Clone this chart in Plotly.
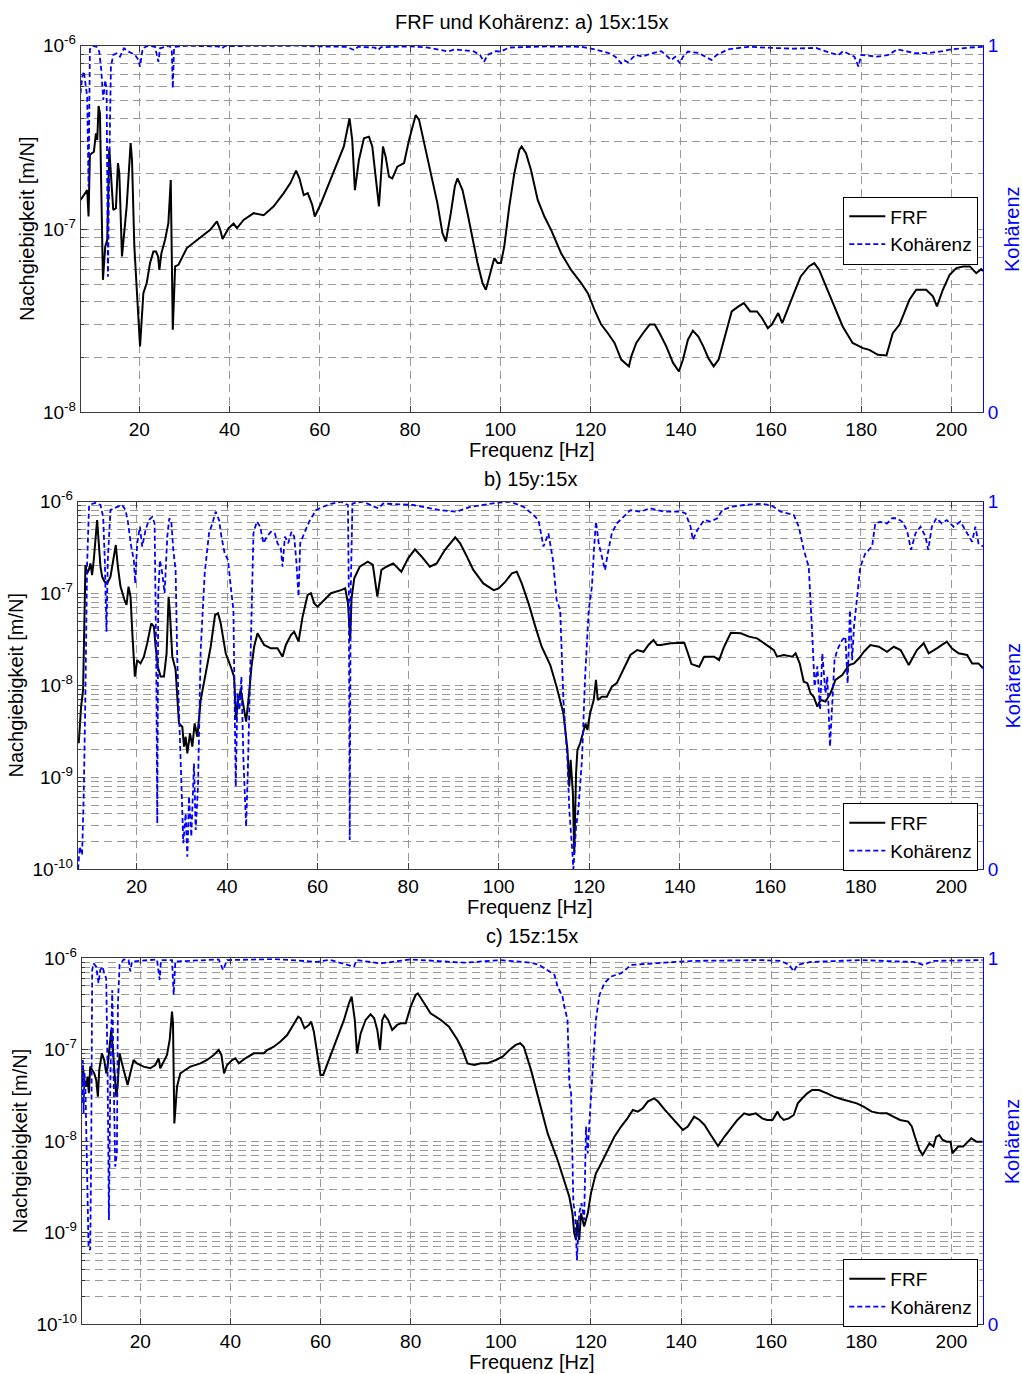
import plotly.graph_objects as go

# ---------------- data ----------------
# Panel a) 15x:15x
f1_hz = [6.96, 8.44, 8.74, 9.04, 9.93, 10.37, 10.67, 10.96, 11.26, 11.93, 12.44, 12.89, 13.33, 13.78, 14.22,
         14.81, 15.26, 15.56, 16.15, 17.19, 18.07, 18.37, 18.89, 19.56, 20.15, 20.89, 21.63, 22.37, 23.11,
         23.70, 24.15, 24.44, 24.89, 25.70, 26.44, 26.96, 27.41, 27.93, 28.67, 30.52, 33.48, 35.70, 37.19,
         37.93, 38.44, 39.78, 40.89, 41.63, 43.11, 45.33, 47.56, 49.78, 52.0, 53.48, 54.74, 55.48, 56.44,
         57.33, 58.30, 58.89, 60.15, 62.37, 63.85, 65.33, 66.59, 67.19, 67.78, 68.67, 69.78, 70.89, 71.63,
         72.37, 73.11, 74.0, 74.59, 75.33, 76.07, 77.19, 78.67, 79.78, 81.26, 82.0, 83.11, 84.59, 86.07,
         87.19, 87.93, 89.04, 89.93, 90.52, 91.63, 92.74, 93.85, 94.96, 96.07, 96.81, 97.78, 98.67, 99.41,
         100.15, 100.89, 102.0, 103.11, 104.22, 104.74, 105.70, 106.81, 108.30, 109.78, 111.26, 113.48,
         115.70, 117.93, 119.41, 120.89, 122.37, 123.85, 125.33, 126.81, 127.56, 128.52, 129.04, 130.15,
         131.63, 133.11, 134.22, 135.33, 136.8, 138.3, 139.6, 140.5, 141.6, 142.7, 143.9, 145.0, 146.1,
         147.3, 148.4, 149.9, 151.3, 152.8, 154.0, 155.4, 156.9, 158.0, 159.3, 160.2, 161.6, 162.5, 163.6,
         165.1, 166.6, 168.4, 169.6, 170.7, 172.2, 174.0, 175.9, 178.1, 180.4, 181.8, 183.7, 185.6, 187.0,
         188.5, 190.7, 192.2, 194.4, 195.9, 196.8, 198.1, 199.6, 201.1, 202.6, 204.1, 205.5, 206.6, 207.0]
frf1 = [1.44e-7, 1.63e-7, 1.17e-7, 2.54e-7, 2.64e-7, 3.33e-7, 3.06e-7, 4.69e-7, 4.28e-7, 5.28e-8, 8.04e-8,
        8.73e-8, 2.75e-7, 1.71e-7, 1.27e-7, 1.30e-7, 2.29e-7, 2.01e-7, 7.08e-8, 1.33e-7, 2.94e-7, 2.38e-7,
        8.04e-8, 4.11e-8, 2.29e-8, 4.47e-8, 5.07e-8, 6.52e-8, 7.53e-8, 7.53e-8, 7.08e-8, 5.98e-8, 7.38e-8,
        8.73e-8, 1.08e-7, 1.85e-7, 2.82e-8, 6.25e-8, 6.38e-8, 7.87e-8, 8.91e-8, 9.89e-8, 1.10e-7, 9.89e-8,
        8.81e-8, 1.01e-7, 1.07e-7, 1.01e-7, 1.12e-7, 1.22e-7, 1.19e-7, 1.33e-7, 1.57e-7, 1.78e-7, 2.08e-7,
        1.89e-7, 1.53e-7, 1.57e-7, 1.36e-7, 1.17e-7, 1.36e-7, 1.85e-7, 2.29e-7, 2.82e-7, 4.02e-7, 3.06e-7,
        1.63e-7, 2.38e-7, 3.13e-7, 3.19e-7, 2.82e-7, 2.01e-7, 1.33e-7, 2.82e-7, 2.48e-7, 1.93e-7, 1.89e-7,
        2.19e-7, 2.29e-7, 3.06e-7, 4.19e-7, 3.94e-7, 2.94e-7, 2.01e-7, 1.38e-7, 9.48e-8, 8.55e-8, 1.22e-7,
        1.71e-7, 1.89e-7, 1.63e-7, 1.22e-7, 8.73e-8, 6.52e-8, 5.07e-8, 4.66e-8, 5.74e-8, 6.93e-8, 6.52e-8,
        6.52e-8, 8.04e-8, 1.33e-7, 2.01e-7, 2.70e-7, 2.82e-7, 2.59e-7, 2.10e-7, 1.44e-7, 1.17e-7, 9.89e-8,
        7.38e-8, 5.98e-8, 5.07e-8, 4.47e-8, 3.62e-8, 3.01e-8, 2.70e-8, 2.39e-8, 1.94e-8, 1.86e-8, 1.78e-8,
        2.02e-8, 2.39e-8, 2.70e-8, 3.01e-8, 3.01e-8, 2.70e-8, 2.29e-8, 1.86e-8, 1.67e-8, 1.94e-8, 2.49e-8,
        2.79e-8, 2.59e-8, 2.29e-8, 1.98e-8, 1.78e-8, 1.94e-8, 2.70e-8, 3.55e-8, 3.78e-8, 3.94e-8, 3.55e-8,
        3.55e-8, 3.27e-8, 2.88e-8, 3.01e-8, 3.48e-8, 3.07e-8, 3.62e-8, 4.47e-8, 5.51e-8, 6.25e-8, 6.52e-8,
        5.98e-8, 4.86e-8, 3.78e-8, 2.94e-8, 2.39e-8, 2.24e-8, 2.19e-8, 2.06e-8, 2.04e-8, 2.70e-8, 3.01e-8,
        4.11e-8, 4.66e-8, 4.66e-8, 4.29e-8, 3.78e-8, 4.66e-8, 5.62e-8, 6.12e-8, 6.25e-8, 6.25e-8, 5.74e-8,
        6.04e-8, 5.90e-8]
c1_hz = [6.96, 7.33, 7.7, 8.07, 8.44, 8.74, 9.04, 9.63, 10.52, 11.11, 11.56, 12.0, 12.44, 12.74, 13.04, 13.33,
         13.70, 14.22, 14.96, 15.70, 16.59, 17.56, 18.30, 19.04, 19.78, 20.15, 20.74, 22.0, 23.48, 24.22, 24.59,
         26.67, 27.19, 27.41, 27.70, 30.5, 37.5, 38.3, 39.0, 55.0, 60.0, 66.0, 67.6, 68.5, 72.2, 72.9, 73.6, 80.0,
         84.0, 86.0, 88.4, 90.0, 94.0, 95.5, 96.4, 97.2, 99.0, 100.1, 102.0, 110.0, 118.0, 121.0, 124.0, 125.5,
         126.8, 127.5, 128.3, 130.0, 131.5, 133.5, 135.7, 137.9, 138.8, 139.8, 140.5, 141.6, 144.0, 146.8, 148.0,
         150.5, 155.0, 160.2, 165.0, 170.0, 173.2, 175.0, 176.0, 178.5, 179.4, 180.0, 183.5, 186.0, 188.0, 191.9,
         195.0, 198.0, 200.0, 204.0, 207.0]
coh1 = [0.87, 0.915, 0.93, 0.89, 0.86, 0.615, 0.99, 1.0, 0.997, 0.984, 0.934, 0.852, 0.906, 0.879, 0.37, 0.67,
        0.943, 0.975, 0.979, 0.97, 0.993, 0.984, 0.979, 0.975, 0.961, 0.943, 0.993, 1.0, 0.997, 0.956, 0.993,
        1.0, 0.988, 0.884, 0.997, 1.0, 0.998, 0.993, 0.999, 1.0, 0.998, 0.997, 0.988, 0.997, 0.995, 0.988, 0.996,
        0.998, 0.995, 0.99, 0.984, 0.99, 0.985, 0.975, 0.956, 0.975, 0.985, 0.984, 0.995, 0.998, 0.997, 0.99,
        0.98, 0.97, 0.952, 0.96, 0.955, 0.975, 0.97, 0.979, 0.985, 0.961, 0.97, 0.952, 0.97, 0.984, 0.98, 0.961,
        0.975, 0.99, 0.997, 0.994, 0.992, 0.994, 0.98, 0.975, 0.985, 0.97, 0.943, 0.975, 0.97, 0.975, 0.99, 0.98,
        0.98, 0.985, 0.99, 0.995, 0.997]

# Panel b) 15y:15x
f2_hz = [7.23, 7.38, 7.75, 8.19, 8.71, 9.08, 9.45, 9.82, 10.18, 10.55, 11.07, 11.29, 11.66, 12.03, 12.40, 12.92,
         13.51, 14.24, 14.98, 15.42, 15.87, 16.46, 17.34, 17.79, 18.23, 18.67, 19.11, 19.63, 20.15, 20.89, 21.62,
         22.36, 23.25, 23.84, 24.21, 24.72, 25.31, 26.05, 26.64, 27.08, 27.38, 27.90, 28.63, 29.37, 30.11, 30.48,
         30.85, 31.22, 31.81, 32.32, 32.84, 33.43, 34.17, 35.28, 36.38, 37.34, 38.01, 38.60, 39.70, 40.81, 41.55,
         41.99, 42.44, 43.03, 43.62, 44.21, 44.87, 45.39, 45.98, 46.72, 48.19, 49.67, 51.14, 52.25, 52.99, 54.10,
         54.83, 55.79, 56.68, 57.79, 58.52, 59.26, 60.0, 61.48, 62.95, 65.17, 66.1, 66.7, 67.2, 67.5, 68.1, 69.3,
         71.1, 72.2, 73.2, 74.1, 75.2, 76.7, 78.5, 80.0, 81.5, 83.0, 84.8, 86.3, 88.1, 90.4, 91.5, 93.0, 94.4,
         96.6, 98.9, 100.0, 101.5, 102.9, 104.0, 105.1, 106.6, 108.1, 109.5, 111.4, 112.8, 114.3, 115.2, 115.6,
         115.9, 116.4, 116.7, 117.1, 117.4, 118.0, 118.6, 119.2, 119.6, 120.2, 121.0, 121.5, 121.9, 122.8, 123.9,
         125.0, 126.1, 127.6, 129.1, 130.6, 132.0, 133.1, 134.2, 135.0, 135.8, 138.0, 141.0, 141.7, 142.6, 144.3,
         145.4, 147.6, 148.7, 149.8, 151.3, 153.5, 155.3, 157.1, 159.3, 160.8, 161.5, 163.0, 164.9, 165.6, 166.5,
         167.4, 168.2, 168.9, 169.6, 170.4, 171.1, 172.2, 173.3, 174.4, 175.9, 177.4, 178.5, 179.6, 180.7, 182.1,
         184.0, 185.8, 187.3, 188.8, 190.6, 192.4, 193.9, 195.0, 196.8, 199.0, 200.1, 201.6, 203.5, 204.6, 206.0,
         207.0]
frf2 = [2.35e-9, 3.02e-9, 5.89e-9, 8.93e-9, 2.05e-7, 1.66e-7, 1.81e-7, 2.13e-7, 1.59e-7, 2.32e-7, 4.52e-7,
        6.32e-7, 3.52e-7, 1.96e-7, 1.53e-7, 1.35e-7, 1.29e-7, 1.53e-7, 2.52e-7, 3.38e-7, 1.96e-7, 1.19e-7,
        8.51e-8, 7.52e-8, 1.19e-7, 9.25e-8, 3.40e-8, 1.25e-8, 1.89e-8, 1.74e-8, 2.06e-8, 2.88e-8, 4.74e-8,
        4.37e-8, 2.64e-8, 1.60e-8, 1.25e-8, 1.25e-8, 2.24e-8, 9.25e-8, 6.10e-8, 2.06e-8, 1.48e-8, 3.87e-9,
        3.56e-9, 2.16e-9, 2.77e-9, 1.83e-9, 3.02e-9, 2.16e-9, 3.87e-9, 2.77e-9, 6.95e-9, 1.36e-8, 2.64e-8,
        5.85e-8, 6.10e-8, 4.74e-8, 2.24e-8, 1.60e-8, 1.25e-8, 4.22e-9, 6.95e-9, 8.93e-9, 5.65e-9, 4.05e-9,
        8.22e-9, 1.60e-8, 2.64e-8, 3.70e-8, 2.76e-8, 2.54e-8, 2.54e-8, 2.06e-8, 2.76e-8, 3.54e-8, 3.85e-8,
        3.00e-8, 5.61e-8, 9.66e-8, 1.01e-7, 7.83e-8, 7.21e-8, 8.51e-8, 1.01e-7, 1.09e-7, 1.14e-7, 7.9e-8,
        3.2e-8, 8.9e-8, 1.47e-7, 1.96e-7, 2.22e-7, 2.05e-7, 9.25e-8, 1.81e-7, 1.96e-7, 2.13e-7, 1.73e-7,
        2.42e-7, 3.03e-7, 2.52e-7, 1.96e-7, 2.13e-7, 2.98e-7, 4.09e-7, 3.52e-7, 2.52e-7, 1.81e-7, 1.29e-7,
        1.09e-7, 1.14e-7, 1.35e-7, 1.66e-7, 1.73e-7, 1.29e-7, 7.83e-8, 4.37e-8, 2.64e-8, 1.67e-8, 9.70e-9,
        4.98e-9, 1.99e-9, 7.93e-10, 1.55e-9, 6.70e-10, 1.49e-10, 1.11e-9, 1.99e-9, 2.35e-9, 3.02e-9, 3.87e-9,
        3.28e-9, 4.98e-9, 6.95e-9, 1.15e-8, 6.95e-9, 7.55e-9, 7.55e-9, 9.70e-9, 1.06e-8, 1.54e-8, 2.15e-8,
        2.43e-8, 2.33e-8, 2.76e-8, 3.13e-8, 2.76e-8, 2.76e-8, 2.88e-8, 2.92e-8, 2.33e-8, 1.71e-8, 1.60e-8,
        2.06e-8, 2.06e-8, 1.89e-8, 2.64e-8, 3.75e-8, 3.70e-8, 3.40e-8, 3.26e-8, 2.76e-8, 2.43e-8, 2.06e-8,
        2.15e-8, 2.06e-8, 2.24e-8, 1.74e-8, 1.10e-8, 1.06e-8, 8.22e-9, 7.55e-9, 5.89e-9, 6.95e-9, 6.67e-9,
        8.22e-9, 1.15e-8, 1.30e-8, 1.67e-8, 1.74e-8, 1.98e-8, 2.33e-8, 2.76e-8, 2.64e-8, 2.33e-8, 2.64e-8,
        2.43e-8, 1.67e-8, 2.43e-8, 2.88e-8, 2.24e-8, 2.54e-8, 3.00e-8, 2.54e-8, 2.24e-8, 2.15e-8, 1.74e-8,
        1.74e-8, 1.54e-8]
c2_hz = [7.08, 7.45, 7.97, 8.34, 8.71, 9.08, 9.52, 10.92, 12.03, 12.62, 12.99, 13.36, 13.65, 14.24, 15.72, 16.83,
         17.56, 18.08, 18.82, 19.41, 19.70, 20.15, 20.74, 21.25, 21.99, 22.73, 23.47, 23.99, 24.35, 24.58, 24.80,
         25.17, 25.68, 26.20, 26.79, 27.23, 27.68, 28.12, 28.63, 29.0, 29.74, 30.33, 30.85, 31.22, 31.59, 32.10,
         32.69, 33.06, 33.58, 34.17, 35.06, 36.01, 36.75, 37.49, 38.23, 38.75, 39.48, 40.22, 40.81, 41.40, 41.92,
         42.29, 42.73, 43.17, 43.62, 44.21, 44.65, 45.24, 45.83, 46.57, 47.31, 48.04, 48.78, 49.67, 50.55, 51.14,
         51.88, 52.25, 52.77, 53.51, 54.24, 54.83, 55.28, 55.79, 56.16, 57.05, 58.15, 59.63, 61.11, 62.95, 65.17,
         66.0, 66.7, 66.9, 67.1, 67.3, 67.7, 70.0, 73.4, 74.5, 81.1, 87.0, 90.7, 93.7, 99.6, 102.5, 105.5, 107.3,
         108.8, 109.9, 111.0, 112.0, 112.8, 113.6, 114.3, 115.2, 115.6, 116.2, 116.5, 117.1, 117.6, 118.4, 119.1,
         119.9, 120.6, 121.1, 121.5, 122.1, 122.8, 123.5, 124.1, 125.0, 126.1, 127.6, 129.1, 131.3, 133.5, 136.5,
         138.0, 140.2, 141.3, 142.4, 142.9, 143.9, 145.4, 146.8, 148.3, 149.4, 151.3, 154.2, 157.9, 160.1, 162.3,
         165.2, 166.3, 167.4, 168.5, 168.9, 169.3, 169.8, 170.4, 171.0, 171.5, 172.2, 172.6, 173.2, 173.7, 174.2,
         174.8, 175.9, 176.6, 177.1, 177.6, 178.1, 178.5, 179.2, 179.9, 181.0, 181.8, 182.5, 183.2, 184.3, 185.8,
         186.9, 188.0, 189.1, 190.2, 191.1, 192.1, 193.2, 194.3, 194.9, 195.7, 196.7, 197.9, 199.0, 200.5, 202.0,
         203.5, 204.6, 205.3, 206.0, 207.0]
coh2 = [0.0, 0.062, 0.039, 0.207, 0.479, 0.832, 0.991, 0.997, 0.991, 0.959, 0.841, 0.646, 0.841, 0.977, 0.986,
        0.991, 0.977, 0.946, 0.878, 0.841, 0.778, 0.887, 0.932, 0.878, 0.923, 0.95, 0.959, 0.941, 0.569, 0.125,
        0.751, 0.841, 0.805, 0.751, 0.905, 0.955, 0.946, 0.869, 0.814, 0.569, 0.297, 0.071, 0.152, 0.034, 0.198,
        0.089, 0.288, 0.107, 0.225, 0.597, 0.805, 0.914, 0.941, 0.973, 0.95, 0.905, 0.859, 0.841, 0.769, 0.705,
        0.225, 0.479, 0.433, 0.524, 0.297, 0.116, 0.297, 0.569, 0.914, 0.946, 0.932, 0.887, 0.905, 0.918, 0.914,
        0.887, 0.873, 0.823, 0.905, 0.887, 0.918, 0.905, 0.841, 0.742, 0.887, 0.914, 0.946, 0.977, 0.986, 0.994,
        1.0, 0.995, 0.991, 0.751, 0.08, 0.751, 0.995, 1.0, 0.982, 0.995, 0.991, 0.977, 0.973, 0.986, 0.997, 1.0,
        0.986, 0.968, 0.95, 0.878, 0.914, 0.841, 0.733, 0.705, 0.461, 0.297, 0.161, 0.062, 0.0, 0.116, 0.161,
        0.297, 0.524, 0.705, 0.769, 0.878, 0.946, 0.887, 0.85, 0.814, 0.859, 0.914, 0.941, 0.959, 0.977, 0.973,
        0.982, 0.973, 0.973, 0.973, 0.968, 0.932, 0.896, 0.923, 0.95, 0.946, 0.955, 0.977, 0.986, 0.991, 0.994,
        0.991, 0.973, 0.964, 0.932, 0.869, 0.823, 0.705, 0.633, 0.497, 0.552, 0.433, 0.587, 0.479, 0.524, 0.334,
        0.461, 0.569, 0.597, 0.624, 0.633, 0.506, 0.705, 0.569, 0.66, 0.751, 0.823, 0.859, 0.869, 0.878, 0.941,
        0.945, 0.941, 0.955, 0.955, 0.946, 0.923, 0.869, 0.914, 0.932, 0.905, 0.869, 0.932, 0.955, 0.941, 0.95,
        0.932, 0.946, 0.914, 0.891, 0.932, 0.887, 0.878]

# Panel c) 15z:15x
f3_hz = [7.04, 7.26, 7.56, 8.0, 8.30, 8.59, 8.89, 9.26, 9.78, 10.22, 10.59, 10.89, 11.48, 12.0, 12.44, 12.74,
         13.19, 13.56, 13.93, 14.30, 14.67, 14.96, 15.41, 15.93, 16.44, 17.19, 17.78, 18.52, 19.26, 20.74, 22.22,
         23.33, 24.07, 24.44, 25.19, 25.93, 26.52, 27.04, 27.26, 27.56, 28.15, 28.89, 29.63, 31.11, 33.33, 34.81,
         36.30, 37.41, 38.0, 38.59, 39.26, 40.37, 41.11, 41.85, 43.33, 45.19, 47.41, 48.15, 49.63, 51.11, 52.59,
         54.07, 55.04, 55.56, 56.44, 57.41, 57.93, 58.52, 59.26, 60.0, 60.59, 61.85, 62.96, 64.44, 65.2, 66.3,
         66.9, 67.6, 68.1, 68.9, 70.0, 71.1, 71.9, 72.6, 73.2, 73.7, 74.2, 75.0, 75.9, 77.0, 77.8, 78.9, 80.0,
         81.1, 81.6, 83.0, 84.4, 86.7, 88.5, 90.4, 91.5, 92.6, 94.1, 95.6, 97.0, 98.9, 100.4, 101.9, 103.3, 104.3,
         105.1, 106.7, 108.2, 110.4, 112.6, 114.1, 115.2, 115.9, 116.3, 116.7, 117.0, 117.4, 117.8, 118.5, 119.3,
         120.0, 121.1, 121.9, 122.6, 123.7, 125.2, 126.7, 128.1, 129.3, 130.4, 131.5, 132.6, 134.0, 134.9, 136.4,
         137.1, 138.5, 140.4, 141.5, 142.9, 144.1, 145.2, 146.6, 148.2, 149.6, 151.0, 152.5, 154.0, 155.1, 156.6,
         158.0, 159.1, 160.3, 161.4, 162.0, 162.8, 163.9, 165.0, 165.9, 166.9, 168.0, 169.1, 170.6, 172.4, 173.9,
         175.7, 177.6, 179.0, 180.5, 182.3, 184.2, 185.7, 187.1, 188.6, 190.4, 191.2, 191.9, 192.9, 193.6, 194.3,
         195.1, 196.0, 196.6, 197.3, 198.0, 198.9, 199.8, 200.2, 200.8, 201.5, 202.6, 203.3, 204.4, 205.5, 206.9]
frf3 = [4.31e-8, 6.55e-8, 4.68e-8, 3.95e-8, 5.09e-8, 3.35e-8, 6.55e-8, 6.01e-8, 5.53e-8, 4.68e-8, 3.08e-8,
        6.01e-8, 9.16e-8, 7.74e-8, 5.53e-8, 6.55e-8, 1.08e-7, 1.65e-7, 9.95e-8, 6.01e-8, 3.08e-8, 3.95e-8,
        9.16e-8, 7.11e-8, 5.53e-8, 4.13e-8, 5.53e-8, 7.74e-8, 7.11e-8, 6.55e-8, 6.28e-8, 6.82e-8, 8.07e-8,
        6.28e-8, 7.43e-8, 8.79e-8, 1.28e-7, 2.61e-7, 1.95e-7, 1.57e-8, 3.95e-8, 5.53e-8, 5.87e-8, 6.55e-8,
        7.11e-8, 7.74e-8, 8.79e-8, 9.95e-8, 8.79e-8, 5.53e-8, 6.82e-8, 7.74e-8, 8.07e-8, 7.11e-8, 8.07e-8,
        9.16e-8, 9.16e-8, 9.95e-8, 1.08e-7, 1.23e-7, 1.45e-7, 1.95e-7, 2.30e-7, 2.21e-7, 1.72e-7, 1.87e-7,
        2.03e-7, 1.58e-7, 9.16e-8, 5.31e-8, 5.31e-8, 7.74e-8, 1.08e-7, 1.65e-7, 2.12e-7, 3.22e-7, 3.81e-7,
        2.12e-7, 9.16e-8, 1.51e-7, 2.12e-7, 2.44e-7, 2.21e-7, 1.64e-7, 9.95e-8, 2.12e-7, 2.40e-7, 2.12e-7,
        1.65e-7, 1.87e-7, 1.95e-7, 1.95e-7, 2.96e-7, 3.97e-7, 4.14e-7, 3.22e-7, 2.51e-7, 2.12e-7, 1.79e-7,
        1.28e-7, 9.95e-8, 7.11e-8, 6.82e-8, 7.11e-8, 7.11e-8, 7.74e-8, 8.41e-8, 9.95e-8, 1.13e-7, 1.18e-7,
        1.08e-7, 6.03e-8, 3.08e-8, 1.22e-8, 6.25e-9, 3.78e-9, 2.48e-9, 1.63e-9, 9.89e-10, 8.36e-10, 1.38e-9,
        8.36e-10, 1.63e-9, 1.17e-9, 1.63e-9, 2.70e-9, 4.47e-9, 5.28e-9, 6.25e-9, 8.04e-9, 1.12e-8, 1.45e-8,
        1.78e-8, 2.20e-8, 2.11e-8, 2.30e-8, 2.72e-8, 2.95e-8, 2.72e-8, 2.20e-8, 2.02e-8, 1.71e-8, 1.33e-8,
        1.45e-8, 1.86e-8, 1.71e-8, 1.51e-8, 1.17e-8, 8.89e-9, 1.12e-8, 1.39e-8, 1.71e-8, 2.02e-8, 1.94e-8,
        2.02e-8, 1.78e-8, 1.71e-8, 1.71e-8, 2.11e-8, 1.86e-8, 1.71e-8, 1.78e-8, 1.94e-8, 2.60e-8, 2.95e-8,
        3.34e-8, 3.64e-8, 3.64e-8, 3.34e-8, 3.08e-8, 2.88e-8, 2.72e-8, 2.60e-8, 2.39e-8, 2.11e-8, 2.02e-8,
        2.02e-8, 1.86e-8, 1.71e-8, 1.64e-8, 1.45e-8, 1.12e-8, 8.04e-9, 7.10e-9, 8.04e-9, 9.51e-9, 8.75e-9,
        1.12e-8, 1.17e-8, 1.04e-8, 9.91e-9, 9.91e-9, 7.40e-9, 8.04e-9, 8.75e-9, 8.75e-9, 9.51e-9, 1.08e-8,
        9.91e-9, 9.91e-9]
c3_hz = [7.04, 7.26, 7.41, 7.63, 7.85, 8.15, 8.52, 8.89, 9.11, 9.33, 9.63, 10.22, 10.74, 11.11, 11.63, 12.0,
         12.44, 12.74, 13.04, 13.33, 13.78, 14.07, 14.44, 14.81, 15.04, 15.41, 16.30, 17.41, 17.78, 18.15, 23.70,
         24.30, 24.59, 27.04, 27.41, 27.78, 37.41, 38.37, 39.26, 50.0, 59.3, 62.0, 67.4, 68.0, 73.3, 80.0, 91.9,
         100.0, 106.7, 108.5, 110.4, 111.9, 112.6, 113.7, 114.1, 114.8, 115.2, 115.6, 116.1, 116.5, 116.9, 117.4,
         117.9, 118.5, 118.9, 119.3, 119.6, 120.4, 121.1, 121.9, 123.0, 124.4, 126.7, 128.9, 132.6, 136.3, 142.9,
         157.7, 162.1, 164.0, 165.0, 165.8, 168.7, 179.8, 191.5, 193.8, 196.0, 206.9]
coh3 = [0.604, 0.722, 0.577, 0.686, 0.631, 0.467, 0.212, 0.203, 0.467, 0.968, 0.986, 0.977, 0.932, 0.968, 0.977,
        0.959, 0.945, 0.695, 0.285, 0.649, 0.913, 0.695, 0.431, 0.467, 0.877, 0.982, 0.997, 0.995, 0.964, 0.991,
        0.997, 0.941, 0.995, 0.995, 0.9, 0.991, 0.997, 0.968, 0.995, 0.998, 0.99, 0.996, 0.977, 0.995, 0.986,
        0.997, 0.988, 0.995, 0.988, 0.982, 0.968, 0.955, 0.923, 0.895, 0.868, 0.832, 0.658, 0.631, 0.331, 0.303,
        0.176, 0.303, 0.331, 0.285, 0.54, 0.467, 0.54, 0.713, 0.832, 0.9, 0.932, 0.95, 0.959, 0.982, 0.986, 0.988,
        0.993, 0.995, 0.993, 0.982, 0.964, 0.982, 0.99, 0.995, 0.99, 0.982, 0.993, 0.995]

x_ticks = [20, 40, 60, 80, 100, 120, 140, 160, 180, 200]
x_range = [7, 207]
panel_titles = ["FRF und Kohärenz: a) 15x:15x", "b) 15y:15x", "c) 15z:15x"]
decades = [(-8, -6), (-10, -6), (-10, -6)]

# ---------------- figure ----------------
W, H = 1022, 1374
FONT = "Liberation Sans, Arial, Helvetica, sans-serif"
BLUE = "#0000FF"
GRID = "#9a9a9a"
AX = "#3a3a3a"

# layout (pixel boxes of the three plot areas)
boxes = [(80.7, 983.0, 45.7, 412.3), (77.7, 983.0, 501.7, 869.3), (81.7, 983.0, 958.3, 1324.3)]

fig = go.Figure()
panels = [(f1_hz, frf1, c1_hz, coh1), (f2_hz, frf2, c2_hz, coh2), (f3_hz, frf3, c3_hz, coh3)]

layout = dict(width=W, height=H, margin=dict(l=0, r=0, t=0, b=0, pad=0, autoexpand=False),
              paper_bgcolor="white", plot_bgcolor="white",
              font=dict(family=FONT, size=19, color="black"), showlegend=True)
annotations = []

for i, ((fh, frf, ch, coh), (x0, x1, y0, y1), (dlo, dhi)) in enumerate(zip(panels, boxes, decades)):
    xn = "x" if i == 0 else f"x{i + 1}"
    yl = 2 * i + 1
    yr = 2 * i + 2
    yln = "y" if yl == 1 else f"y{yl}"
    yrn = f"y{yr}"
    leg = "legend" if i == 0 else f"legend{i + 1}"
    fig.add_trace(go.Scatter(x=fh, y=frf, mode="lines", name="FRF", xaxis=xn, yaxis=yln,
                             line=dict(color="black", width=2), legend=leg))
    fig.add_trace(go.Scatter(x=ch, y=coh, mode="lines", name="Kohärenz", xaxis=xn, yaxis=yrn,
                             line=dict(color=BLUE, width=1.8, dash="5px,3px"), legend=leg))

    xdom = [x0 / W, x1 / W]
    ydom = [1 - y1 / H, 1 - y0 / H]
    xkey = "xaxis" if i == 0 else f"xaxis{i + 1}"
    ylkey = "yaxis" if yl == 1 else f"yaxis{yl}"
    yrkey = f"yaxis{yr}"

    layout[xkey] = dict(domain=xdom, anchor=yln, range=x_range, tickvals=x_ticks,
                        showgrid=True, gridcolor=GRID, griddash="8px,5px", gridwidth=1,
                        showline=True, linecolor=AX, linewidth=1, mirror="ticks",
                        ticks="inside", ticklen=6, tickcolor=AX, zeroline=False, automargin=False,
                        tickfont=dict(size=19, family=FONT))
    major = [10.0 ** e for e in range(dlo, dhi + 1)]
    majtxt = [f"10<sup>{e}</sup>" for e in range(dlo, dhi + 1)]
    minor = [m * 10.0 ** e for e in range(dlo, dhi) for m in range(2, 10)]
    layout[ylkey] = dict(domain=ydom, anchor=xn, type="log", range=[dlo, dhi],
                         tickmode="array", tickvals=major, ticktext=majtxt,
                         showgrid=True, gridcolor=GRID, griddash="8px,5px", gridwidth=1,
                         minor=dict(tickmode="array", tickvals=minor, showgrid=True, gridcolor=GRID,
                                    griddash="8px,5px", gridwidth=1, ticks="inside", ticklen=3,
                                    tickcolor=AX),
                         showline=True, linecolor=AX, linewidth=1, mirror=False, automargin=False,
                         ticks="inside", ticklen=6, tickcolor=AX, zeroline=False,
                         tickfont=dict(size=19, family=FONT))
    layout[yrkey] = dict(overlaying=yln, anchor=xn, side="right", range=[0, 1],
                         tickmode="array", tickvals=[0, 1], ticktext=["0", "1"], automargin=False,
                         showgrid=False, zeroline=False, showline=True, linecolor=BLUE, linewidth=1,
                         ticks="inside", ticklen=6, tickcolor=BLUE,
                         tickfont=dict(size=19, family=FONT, color=BLUE))
    # legend box in the lower / middle right
    leg_top = {0: 196.5, 1: 803.0, 2: 1259.0}[i]
    layout[leg] = dict(x=978.3 / W, xanchor="right", y=1 - leg_top / H, yanchor="top",
                       bgcolor="white", bordercolor="black", borderwidth=1,
                       font=dict(size=19, family=FONT, color="black"),
                       tracegroupgap=0, itemwidth=36)

    # titles / axis labels as text
    cx = (x0 + x1) / 2 / W
    title_y = {0: 22, 1: 479, 2: 936}[i]
    annotations.append(dict(text=panel_titles[i], x=cx, y=1 - title_y / H, xref="paper", yref="paper",
                            showarrow=False, xanchor="center", yanchor="middle",
                            font=dict(size=20, family=FONT, color="black")))
    annotations.append(dict(text="Frequenz [Hz]", x=cx, y=1 - (y1 + 38) / H, xref="paper", yref="paper",
                            showarrow=False, xanchor="center", yanchor="middle",
                            font=dict(size=20, family=FONT, color="black")))
    ylab_x = {0: 27, 1: 15, 2: 20}[i]
    ymid = (y0 + y1) / 2
    annotations.append(dict(text="Nachgiebigkeit [m/N]", x=ylab_x / W, y=1 - ymid / H, xref="paper",
                            yref="paper", showarrow=False, textangle=-90, xanchor="center",
                            yanchor="middle", font=dict(size=20, family=FONT, color="black")))
    annotations.append(dict(text="Kohärenz", x=1012 / W, y=1 - ymid / H, xref="paper", yref="paper",
                            showarrow=False, textangle=-90, xanchor="center", yanchor="middle",
                            font=dict(size=20, family=FONT, color=BLUE)))

layout["annotations"] = annotations
fig.update_layout(**layout)
fig.write_html("out.html")
